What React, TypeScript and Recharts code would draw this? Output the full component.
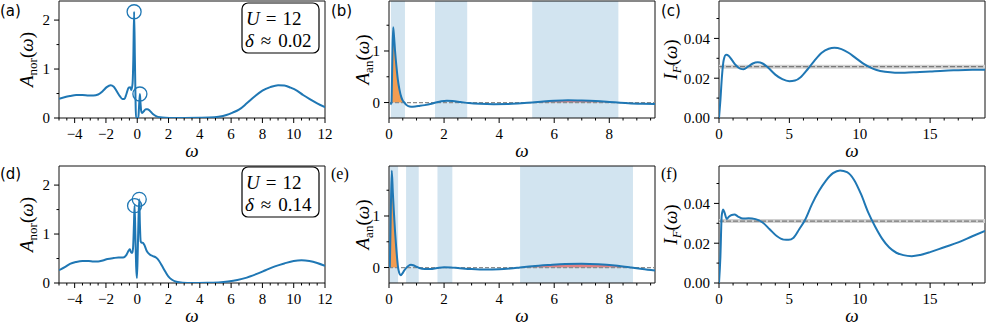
import React from 'react'
import { ComposedChart, Line, Area, Scatter, XAxis, YAxis, ReferenceArea, ReferenceLine } from 'recharts'

const BLUE = '#1f77b4'
const SERIF = "'Liberation Serif', 'DejaVu Serif', serif"
const SANS = "'DejaVu Sans', sans-serif"

// plot box size (px) and the room for the axes around it
const PW = 266
const PH = 117
const YW = 60
const XH = 48
const MT = 2
const MR = 14

// (a) U=12, delta~0.02: normal spectral function
const aOmega = [-5, -4.6, -4.3, -3.9, -3.5, -3.1, -2.8, -2.5, -2.2, -1.95, -1.7, -1.5, -1.3, -1.1, -0.95, -0.82, -0.7, -0.55, -0.45, -0.38, -0.3, -0.25, -0.2, -0.15, -0.11, -0.08, 0.07, 0.11, 0.17, 0.21, 0.25, 0.3, 0.4, 0.55, 0.65, 0.8, 1.0, 1.2, 1.45, 1.8, 2.3, 3, 4, 4.6, 5.2, 5.7, 6.1, 6.5, 7.0, 7.5, 8.0, 8.5, 9.0, 9.4, 9.8, 10.2, 10.6, 11.0, 11.5, 12]
const aNor = [0.39, 0.43, 0.45, 0.47, 0.47, 0.46, 0.46, 0.48, 0.55, 0.63, 0.67, 0.64, 0.54, 0.44, 0.39, 0.39, 0.48, 0.62, 0.63, 0.57, 0.7, 1.2, 2.17, 1.2, 0.4, 0, 0, 0.2, 0.49, 0.3, 0.15, 0.1, 0.13, 0.18, 0.18, 0.15, 0.08, 0.04, 0.015, 0.004, 0, 0, 0.003, 0.008, 0.025, 0.06, 0.11, 0.17, 0.3, 0.44, 0.56, 0.63, 0.67, 0.665, 0.62, 0.56, 0.47, 0.39, 0.3, 0.22]
const aPeakW = [-0.2, 0.17]
const aPeakV = [2.17, 0.49]

// (b) anomalous spectral function
const bOmega = [0.05, 0.09, 0.12, 0.15, 0.18, 0.22, 0.27, 0.32, 0.38, 0.45, 0.52, 0.56, 0.62, 0.7, 0.8, 0.95, 1.1, 1.3, 1.5, 1.7, 1.9, 2.1, 2.3, 2.6, 2.9, 3.3, 3.8, 4.3, 4.8, 5.2, 5.6, 6.0, 6.5, 7.0, 7.5, 8.0, 8.3, 8.7, 9.2, 9.66]
const bAn = [-0.04, 0, 0.8, 1.46, 1.3, 1.0, 0.7, 0.45, 0.25, 0.1, 0.02, 0, -0.04, -0.07, -0.08, -0.075, -0.065, -0.05, -0.03, 0, 0.025, 0.035, 0.03, 0.01, -0.01, -0.025, -0.032, -0.03, -0.015, 0, 0.02, 0.035, 0.045, 0.04, 0.03, 0.012, 0, -0.015, -0.025, -0.03]
const bBands = [[0.07, 0.58], [1.67, 2.84], [5.2, 8.33]]

// (c) integrated weight I_F
const cOmega = [0, 0.1, 0.2, 0.33, 0.5, 0.7, 0.95, 1.2, 1.5, 1.75, 2.05, 2.4, 2.75, 3.1, 3.5, 4.0, 4.5, 5.0, 5.4, 5.8, 6.3, 6.8, 7.3, 7.8, 8.2, 8.7, 9.2, 9.7, 10.2, 10.7, 11.2, 11.8, 12.5, 13.2, 14.0, 15.0, 16.0, 17.0, 18.0, 18.9]
const cIF = [0, 0.009, 0.02, 0.029, 0.0318, 0.0312, 0.0288, 0.0265, 0.0248, 0.0245, 0.0258, 0.0274, 0.028, 0.0274, 0.0252, 0.0218, 0.0195, 0.0185, 0.0188, 0.0205, 0.0245, 0.029, 0.0328, 0.0348, 0.0353, 0.0346, 0.0328, 0.0302, 0.0276, 0.0256, 0.0241, 0.0232, 0.0228, 0.0228, 0.023, 0.0234, 0.0238, 0.024, 0.0242, 0.0243]
const cMean = 0.0258

// (d) U=12, delta~0.14
const dOmega = [-5, -4.6, -4.3, -3.9, -3.5, -3.1, -2.8, -2.5, -2.2, -1.9, -1.5, -1.2, -0.9, -0.7, -0.55, -0.47, -0.38, -0.3, -0.26, -0.21, -0.17, -0.12, -0.07, -0.02, 0.03, 0.08, 0.13, 0.17, 0.22, 0.28, 0.35, 0.45, 0.6, 0.8, 1.0, 1.2, 1.4, 1.6, 1.8, 2.0, 2.2, 2.5, 2.9, 3.5, 4.5, 5.2, 5.8, 6.4, 7.0, 7.6, 8.2, 8.8, 9.4, 10.0, 10.5, 11.0, 11.5, 12]
const dNor = [0.26, 0.33, 0.39, 0.43, 0.45, 0.45, 0.44, 0.44, 0.46, 0.49, 0.51, 0.52, 0.52, 0.57, 0.66, 0.69, 0.62, 0.62, 0.75, 1.2, 1.58, 1.0, 0.35, 0.1, 0.6, 1.3, 1.71, 1.2, 0.85, 0.82, 0.82, 0.78, 0.66, 0.58, 0.55, 0.52, 0.45, 0.34, 0.23, 0.13, 0.07, 0.025, 0.006, 0.001, 0.003, 0.012, 0.03, 0.06, 0.11, 0.18, 0.26, 0.34, 0.4, 0.45, 0.465, 0.45, 0.41, 0.35]
const dPeakW = [-0.17, 0.13]
const dPeakV = [1.58, 1.71]

// (e)
const eOmega = [0.03, 0.06, 0.1, 0.14, 0.18, 0.22, 0.26, 0.3, 0.33, 0.37, 0.42, 0.48, 0.55, 0.62, 0.7, 0.8, 0.9, 1.0, 1.1, 1.3, 1.5, 1.75, 2.0, 2.25, 2.5, 3.0, 3.5, 4.0, 4.4, 4.76, 5.2, 5.8, 6.4, 7.0, 7.6, 8.2, 8.8, 9.2, 9.66]
const eAn = [0, 0.9, 1.88, 1.45, 1.05, 0.7, 0.4, 0.15, 0, -0.1, -0.15, -0.12, -0.06, -0.01, 0.03, 0.055, 0.04, 0.015, -0.01, -0.03, -0.03, -0.01, 0.005, 0, -0.01, -0.03, -0.04, -0.035, -0.02, 0, 0.025, 0.05, 0.07, 0.075, 0.065, 0.04, 0, -0.03, -0.06]
const eBands = [[0.02, 0.33], [0.62, 1.08], [1.76, 2.3], [4.76, 8.86]]

// (f)
const fOmega = [0, 0.1, 0.19, 0.29, 0.4, 0.55, 0.7, 0.9, 1.1, 1.35, 1.7, 2.1, 2.6, 3.1, 3.6, 4.1, 4.6, 4.95, 5.3, 5.7, 6.1, 6.6, 7.1, 7.6, 8.1, 8.6, 9.1, 9.6, 10.1, 10.6, 11.1, 11.6, 12.1, 12.6, 13.1, 13.7, 14.3, 15.0, 16.0, 17.0, 18.0, 18.9]
const fIF = [0, 0.0134, 0.0336, 0.037, 0.0352, 0.0322, 0.0333, 0.0342, 0.0344, 0.0334, 0.0324, 0.0325, 0.0321, 0.0304, 0.027, 0.0236, 0.0218, 0.0217, 0.0228, 0.027, 0.0315, 0.0395, 0.0462, 0.0515, 0.0552, 0.0566, 0.0557, 0.0518, 0.0445, 0.0355, 0.0283, 0.0222, 0.0178, 0.0152, 0.014, 0.0135, 0.0141, 0.0155, 0.018, 0.0204, 0.0235, 0.0262]
const fMean = 0.0311

// ticks
const norXMajor = [-4, -2, 0, 2, 4, 6, 8, 10, 12]
const anXMajor = [0, 2, 4, 6, 8]
const ifXMajor = [0, 5, 10, 15]
const norYMajor = [0, 1, 2]
const anYMajor = [0, 1]
const ifYMajor = [0, 0.02, 0.04]

const steps = (a: number, b: number, s: number) => {
  const out: number[] = []
  for (let i = 0; a + i * s <= b + 1e-9; i++) out.push(+(a + i * s).toFixed(4))
  return out
}

const fmtInt = (n: number) => (n < 0 ? '\u2212' + Math.abs(n) : String(n))
const fmt2 = (n: number) => n.toFixed(2)

const serif = { fontFamily: SERIF }

function XTick(props: any) {
  const { x, y, payload, majors } = props
  const major = majors.some((m: number) => Math.abs(m - payload.value) < 1e-9)
  return (
    <g>
      <line x1={x} x2={x} y1={y} y2={y + (major ? 5 : 2.5)} stroke='#000' strokeWidth={1} />
      {major && (
        <text x={x} y={y + 10} dy='0.71em' textAnchor='middle' style={serif} fontSize={15} fill='#000'>
          {fmtInt(payload.value)}
        </text>
      )}
    </g>
  )
}

function YTick(props: any) {
  const { x, y, payload, majors, fmt } = props
  const major = majors.some((m: number) => Math.abs(m - payload.value) < 1e-9)
  return (
    <g>
      <line x1={x} x2={x - (major ? 5 : 2.5)} y1={y} y2={y} stroke='#000' strokeWidth={1} />
      {major && (
        <text x={x - 9} y={y} dy='0.36em' textAnchor='end' style={serif} fontSize={15} fill='#000'>
          {fmt(payload.value)}
        </text>
      )}
    </g>
  )
}

const yLabel = (kind: string, dx: number) => (props: any) => {
  const vb = props.viewBox
  const x = vb.x + dx
  const y = vb.y + vb.height / 2
  const main = kind === 'IF' ? 'I' : 'A'
  const sub = kind === 'IF' ? 'F' : kind
  return (
    <text x={x} y={y} transform={`rotate(-90 ${x} ${y})`} textAnchor='middle' style={serif} fontSize={19} fill='#000'>
      <tspan fontStyle='italic'>{main}</tspan>
      <tspan fontSize={13} dy={4} fontStyle={kind === 'IF' ? 'italic' : 'normal'}>{sub}</tspan>
      <tspan dy={-4}>(</tspan>
      <tspan fontStyle='italic'>ω</tspan>
      <tspan>)</tspan>
    </text>
  )
}

const xLabel = (props: any) => {
  const vb = props.viewBox
  return (
    <text x={vb.x + vb.width / 2} y={vb.y + 38.5} textAnchor='middle' style={serif} fontSize={19} fontStyle='italic' fill='#000'>
      ω
    </text>
  )
}

type Cfg = {
  left: number
  top: number
  w: number[]
  v: number[]
  xDom: [number, number]
  xMajor: number[]
  xTicks: number[]
  yDom: [number, number]
  yMajor: number[]
  yTicks: number[]
  yFmt: (n: number) => string
  kind: string
  labelX: number
  bands?: number[][]
  zero?: boolean
  mean?: number
  peakW?: number[]
  peakV?: number[]
}

function Panel({ c }: { c: Cfg }) {
  const orange = c.bands ? c.bands[0] : null
  const red = c.bands ? c.bands[c.bands.length - 1] : null
  const rows = c.w.map((w, i) => {
    const v = c.v[i]
    return {
      w,
      v,
      o: orange && w >= orange[0] && w <= orange[1] && v >= 0 ? v : null,
      r: red && w >= red[0] && w <= red[1] && v >= 0 ? v : null,
    }
  })
  const peaks = (c.peakW || []).map((w, i) => ({ w, v: (c.peakV as number[])[i] }))

  return (
    <div style={{ position: 'absolute', left: c.left - YW, top: c.top - MT }}>
      <ComposedChart width={YW + PW + MR} height={MT + PH + XH} data={rows} margin={{ top: MT, right: MR, bottom: 0, left: 0 }}>
        {(c.bands || []).map(([x1, x2], i) => (
          <ReferenceArea key={i} x1={x1} x2={x2} y1={c.yDom[0]} y2={c.yDom[1]} fill={BLUE} fillOpacity={0.2} stroke='none' />
        ))}
        <XAxis
          type='number'
          dataKey='w'
          domain={c.xDom}
          allowDataOverflow
          ticks={c.xTicks}
          interval={0}
          tickSize={0}
          tickMargin={0}
          tickLine={false}
          axisLine={false}
          height={XH}
          tick={<XTick majors={c.xMajor} />}
          label={xLabel}
        />
        <YAxis
          type='number'
          domain={c.yDom}
          allowDataOverflow
          ticks={c.yTicks}
          interval={0}
          tickSize={0}
          tickMargin={0}
          tickLine={false}
          axisLine={false}
          width={YW}
          tick={<YTick majors={c.yMajor} fmt={c.yFmt} />}
          label={yLabel(c.kind, c.labelX)}
        />
        {orange && <Area type='monotone' dataKey='o' baseValue={0} stroke='none' fill='#ff7f0e' fillOpacity={0.7} isAnimationActive={false} />}
        {red && <Area type='monotone' dataKey='r' baseValue={0} stroke='none' fill='#e8413a' fillOpacity={0.6} isAnimationActive={false} />}
        {c.zero && <ReferenceLine y={0} stroke='#8c8c8c' strokeWidth={1.2} strokeDasharray='4 2' />}
        {c.mean !== undefined && <ReferenceLine y={c.mean} stroke='#d0d0d0' strokeWidth={4} />}
        {c.mean !== undefined && <ReferenceLine y={c.mean} stroke='#7a7a7a' strokeWidth={1.2} strokeDasharray='5 2' />}
        <Line type='monotone' dataKey='v' stroke={BLUE} strokeWidth={2} dot={false} isAnimationActive={false} />
        {peaks.length > 0 && (
          <Scatter
            data={peaks}
            dataKey='v'
            isAnimationActive={false}
            shape={(p: any) => <circle cx={p.cx} cy={p.cy} r={7} fill='none' stroke={BLUE} strokeWidth={1.3} />}
          />
        )}
        <ReferenceArea x1={c.xDom[0]} x2={c.xDom[1]} y1={c.yDom[0]} y2={c.yDom[1]} fill='none' stroke='#111' strokeWidth={1} fillOpacity={0} />
      </ComposedChart>
    </div>
  )
}

const norX = steps(-5, 12, 0.5)
const anX = steps(0, 9.5, 0.5)
const ifX = steps(0, 18, 1)
const norY = steps(0, 2, 0.5)
const anY = steps(0, 1.5, 0.5)
const ifY = steps(0, 0.05, 0.01)

const ROW1 = 1
const ROW2 = 166

const panels: Cfg[] = [
  { left: 59, top: ROW1, w: aOmega, v: aNor, xDom: [-5, 12], xMajor: norXMajor, xTicks: norX, yDom: [0, 2.39], yMajor: norYMajor, yTicks: norY, yFmt: fmtInt, kind: 'nor', labelX: 34, peakW: aPeakW, peakV: aPeakV },
  { left: 389, top: ROW1, w: bOmega, v: bAn, xDom: [0, 9.66], xMajor: anXMajor, xTicks: anX, yDom: [-0.3, 1.97], yMajor: anYMajor, yTicks: anY, yFmt: fmtInt, kind: 'an', labelX: 40, bands: bBands, zero: true },
  { left: 719, top: ROW1, w: cOmega, v: cIF, xDom: [0, 18.9], xMajor: ifXMajor, xTicks: ifX, yDom: [0, 0.0588], yMajor: ifYMajor, yTicks: ifY, yFmt: fmt2, kind: 'IF', labelX: 18, mean: cMean },
  { left: 59, top: ROW2, w: dOmega, v: dNor, xDom: [-5, 12], xMajor: norXMajor, xTicks: norX, yDom: [0, 2.39], yMajor: norYMajor, yTicks: norY, yFmt: fmtInt, kind: 'nor', labelX: 34, peakW: dPeakW, peakV: dPeakV },
  { left: 389, top: ROW2, w: eOmega, v: eAn, xDom: [0, 9.66], xMajor: anXMajor, xTicks: anX, yDom: [-0.3, 1.97], yMajor: anYMajor, yTicks: anY, yFmt: fmtInt, kind: 'an', labelX: 40, bands: eBands, zero: true },
  { left: 719, top: ROW2, w: fOmega, v: fIF, xDom: [0, 18.9], xMajor: ifXMajor, xTicks: ifX, yDom: [0, 0.0588], yMajor: ifYMajor, yTicks: ifY, yFmt: fmt2, kind: 'IF', labelX: 18, mean: fMean },
]

function InfoBox({ x, y, delta }: { x: number; y: number; delta: string }) {
  return (
    <g>
      <rect x={x} y={y} width={77} height={50} rx={6} fill='#fff' stroke='#000' strokeWidth={1.2} />
      <text x={x + 4} y={y + 22} style={serif} fontSize={19} fill='#000'>
        <tspan fontStyle='italic'>U</tspan>
        <tspan dx={6}>=</tspan>
        <tspan dx={6}>12</tspan>
      </text>
      <text x={x + 3} y={y + 44} style={serif} fontSize={19} fill='#000'>
        <tspan fontStyle='italic'>δ</tspan>
        <tspan dx={7}>≈</tspan>
        <tspan dx={7}>{delta}</tspan>
      </text>
    </g>
  )
}

export default function App() {
  return (
    <div style={{ position: 'absolute', left: 0, top: 0, width: 986, height: 326, overflow: 'hidden', background: '#fff' }}>
      {panels.map((c, i) => (
        <Panel key={i} c={c} />
      ))}
      <svg width={986} height={326} style={{ position: 'absolute', left: 0, top: 0, pointerEvents: 'none' }}>
        <text x={0} y={15.5} style={{ fontFamily: SANS }} fontSize={15} fill='#000'>(a)</text>
        <text x={331} y={15.5} style={{ fontFamily: SANS }} fontSize={15} fill='#000'>(b)</text>
        <text x={661} y={15.5} style={{ fontFamily: SANS }} fontSize={15} fill='#000'>(c)</text>
        <text x={0} y={178.5} style={{ fontFamily: SANS }} fontSize={15} fill='#000'>(d)</text>
        <text x={331} y={178.5} style={serif} fontSize={16} fill='#000'>(e)</text>
        <text x={661} y={178.5} style={serif} fontSize={16} fill='#000'>(f)</text>
        <InfoBox x={242} y={3} delta='0.02' />
        <InfoBox x={242} y={167} delta='0.14' />
      </svg>
    </div>
  )
}
